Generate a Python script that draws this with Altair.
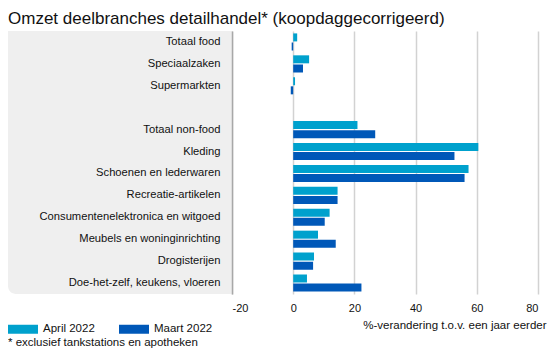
import altair as alt
import pandas as pd

categories = ["Totaal food", "Speciaalzaken", "Supermarkten", " ",
              "Totaal non-food", "Kleding", "Schoenen en lederwaren",
              "Recreatie-artikelen", "Consumentenelektronica en witgoed",
              "Meubels en woninginrichting", "Drogisterijen",
              "Doe-het-zelf, keukens, vloeren"]
bar_categories = [c for c in categories if c.strip()]
april = [1.3, 5.2, 0.6, 21.0, 60.5, 57.3, 14.5, 11.9, 8.1, 6.8, 4.5]
maart = [-0.5, 3.2, -0.8, 26.8, 52.7, 56.0, 14.5, 10.3, 13.9, 6.5, 22.3]
series = ["April 2022", "Maart 2022"]
colors = ["#00a1cd", "#0058b8"]
x_ticks = [-20, 0, 20, 40, 60, 80]
title_text = "Omzet deelbranches detailhandel* (koopdaggecorrigeerd)"
axis_title = "%-verandering t.o.v. een jaar eerder"
footnote = "* exclusief tankstations en apotheken"

rows = []
for c, a, m in zip(bar_categories, april, maart):
    rows.append({"cat": c, "serie": series[0], "val": a})
    rows.append({"cat": c, "serie": series[1], "val": m})
df = pd.DataFrame(rows)

W, H = 306, 263
FONT = "Liberation Sans"

panel = alt.Chart(pd.DataFrame({"a": [0]})).mark_rect(
    color="#efefef", cornerRadiusBottomLeft=8
).encode(x=alt.value(-224), x2=alt.value(0), y=alt.value(0), y2=alt.value(H))

bars = alt.Chart(df).mark_bar().encode(
    x=alt.X("val:Q", scale=alt.Scale(domain=[-20, 80], nice=False),
            axis=alt.Axis(values=x_ticks, title=axis_title, domain=False, ticks=False,
                          grid=True, gridColor="#d2d2d2", gridWidth=1.5,
                          labelExpr="'' + datum.value",
                          labelFontSize=11, labelColor="#111", labelPadding=8,
                          labelFont=FONT, titleFont=FONT, titleFontSize=11.5,
                          titleFontWeight="normal", titleColor="#111",
                          titleAnchor="end", titleAlign="right", titleBaseline="alphabetic",
                          titleX=W + 8, titleY=34)),
    y=alt.Y("cat:N", sort=categories,
            scale=alt.Scale(domain=categories, paddingInner=0.22, paddingOuter=0.11),
            axis=alt.Axis(title=None, ticks=False, domain=True, domainColor="#a8a8a8",
                          domainWidth=1.5, labelFontSize=11.2, labelColor="#111",
                          labelFont=FONT, labelPadding=12, labelLimit=300, zindex=1)),
    yOffset=alt.YOffset("serie:N", sort=series, scale=alt.Scale(paddingInner=0.12)),
    color=alt.Color("serie:N", sort=series,
                    scale=alt.Scale(domain=series, range=colors),
                    legend=alt.Legend(orient="none", legendX=-224, legendY=H + 25,
                                      direction="horizontal", title=None,
                                      symbolType="M-1,-0.45L2,-0.45L2,0.45L-1,0.45Z",
                                      symbolSize=400, symbolStrokeWidth=0,
                                      labelOffset=15, columnPadding=24,
                                      labelFontSize=11.5, labelFont=FONT,
                                      labelColor="#111")),
)

foot = alt.Chart(pd.DataFrame({"t": [footnote]})).mark_text(
    align="left", baseline="alphabetic", fontSize=11.5, font=FONT, color="#111"
).encode(x=alt.value(-224), y=alt.value(H + 52), text="t:N")

chart = alt.layer(panel, bars, foot).properties(
    width=W, height=H,
    title=alt.TitleParams(title_text, anchor="start", fontSize=17,
                          font=FONT, fontWeight="normal", color="#111", offset=3),
    autosize=alt.AutoSizeParams(type="none"),
    padding={"left": 224, "top": 23, "right": 9, "bottom": 55},
).configure_view(stroke=None)

chart.save("out.html", embed_options={"renderer": "svg", "actions": False})
